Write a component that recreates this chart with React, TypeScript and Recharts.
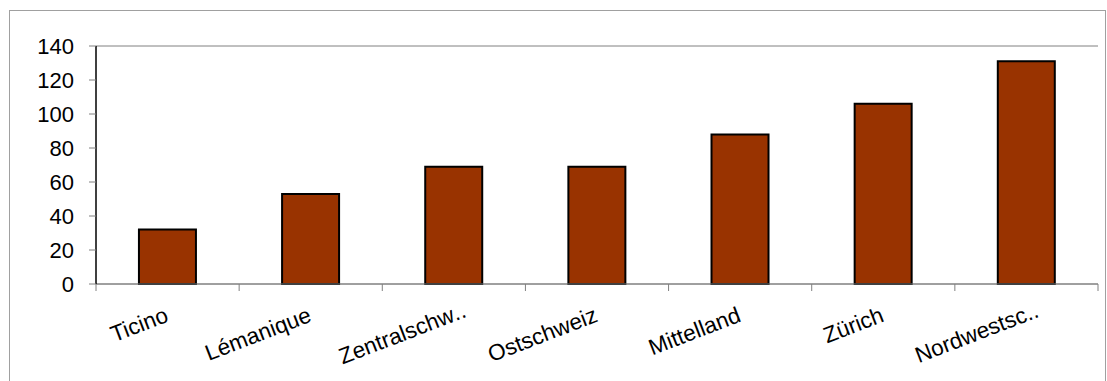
import React from 'react';
import { BarChart, Bar, XAxis, YAxis, CartesianGrid } from 'recharts';

const REGIONS = ['Ticino', 'Lémanique', 'Zentralschw..', 'Ostschweiz', 'Mittelland', 'Zürich', 'Nordwestsc..'];
const VALUES = [32, 53, 69, 69, 88, 106, 131];
const Y_TICKS = [0, 20, 40, 60, 80, 100, 120, 140];

const data = REGIONS.map((name, i) => ({ name, value: VALUES[i] }));

const W = 1107;
const H = 381;
const LEFT = 96;
const RIGHT = 9;
const X_AXIS_H = 97;
const AXIS_Y = H - X_AXIS_H;
const BAND = (W - LEFT - RIGHT) / REGIONS.length;

const FONT = '"Liberation Sans", Arial, sans-serif';

function RegionTick(props: any) {
  const { x, payload, index } = props;
  const left = x - BAND / 2;
  const label: string = payload.value;
  const cut = label.endsWith('..');
  const main = cut ? label.slice(0, -2) : label;
  const ax = x + 2;
  const ay = AXIS_Y + 37;
  const rot = `rotate(-21 ${ax} ${ay})`;
  return (
    <g>
      <line x1={left} y1={AXIS_Y} x2={left} y2={AXIS_Y + 7} stroke="#808080" />
      {index === REGIONS.length - 1 && (
        <line x1={x + BAND / 2} y1={AXIS_Y} x2={x + BAND / 2} y2={AXIS_Y + 7} stroke="#808080" />
      )}
      <text x={ax} y={ay} textAnchor="end" transform={rot} fontSize={22.5} fontFamily={FONT} fill="#000">
        {main}
      </text>
      {cut && (
        <text x={ax} y={ay} textAnchor="start" transform={rot} fontSize={22.5} fontFamily={FONT} fill="#000">
          ..
        </text>
      )}
    </g>
  );
}

export default function App() {
  return (
    <div style={{ position: 'absolute', left: 0, top: 0, width: W, height: H, background: '#fff', overflow: 'hidden' }}>
      <div style={{ position: 'absolute', left: 9, top: 10, width: 1095, height: 400, border: '1px solid #a0a0a0' }} />
      <BarChart
        width={W}
        height={H}
        data={data}
        margin={{ top: 46, right: RIGHT, bottom: 0, left: 0 }}
        barCategoryGap="30%"
        style={{ position: 'absolute', left: 0, top: 0 }}
      >
        <CartesianGrid vertical={false} stroke="#808080" strokeWidth={1} />
        <XAxis
          dataKey="name"
          height={X_AXIS_H}
          axisLine={{ stroke: '#808080' }}
          tickLine={false}
          interval={0}
          tick={<RegionTick />}
        />
        <YAxis
          yAxisId="left"
          width={LEFT}
          domain={[0, 140]}
          ticks={Y_TICKS}
          interval={0}
          axisLine={{ stroke: '#000', strokeWidth: 1.5 }}
          tickLine={{ stroke: '#808080' }}
          tickSize={7}
          tickMargin={15}
          tick={{ fill: '#000', fontSize: 22, fontFamily: FONT }}
        />
        <YAxis
          yAxisId="right"
          orientation="right"
          width={0}
          domain={[0, 140]}
          tick={false}
          tickLine={false}
          axisLine={{ stroke: '#a0a0a0', strokeWidth: 1.5 }}
        />
        <Bar
          yAxisId="left"
          dataKey="value"
          fill="#993300"
          stroke="#000"
          strokeWidth={2}
          isAnimationActive={false}
        />
      </BarChart>
    </div>
  );
}
